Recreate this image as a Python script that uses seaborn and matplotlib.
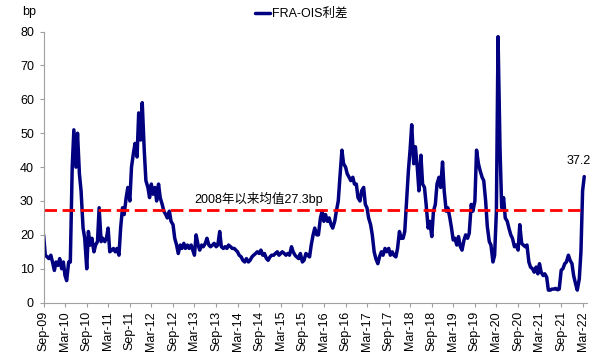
import matplotlib
matplotlib.use('Agg')
import matplotlib.pyplot as plt
import matplotlib.dates as mdates
import seaborn as sns
import pandas as pd

# -----------data (bp, 1st and 15th of each month)-----------------------------------
y2009 = [20, 14, 13.5, 13, 14, 12, 9.5, 12]
y2010 = [11, 13, 10, 12, 8, 6.5, 12, 12, 40, 51, 40, 50, 38, 33, 22, 19, 10, 21, 17, 19, 15, 17, 18, 28]
y2011 = [18, 19, 18, 19, 22, 15, 15.5, 16, 15, 16, 14, 22, 28, 26, 31, 34, 30, 40, 44, 47, 43, 56, 48, 59]
y2012 = [45, 36, 34, 31, 35, 32, 34, 30, 35, 31, 29, 27, 26, 25, 27, 24, 23, 19, 17, 14.5, 17, 16, 17.5, 16]
y2013 = [17, 16, 17, 15.5, 14, 20, 17, 15.5, 17, 16.5, 17.5, 19, 17, 16.5, 17, 17.5, 16.5, 17, 21, 16.5, 16, 16.5, 16, 17]
y2014 = [16.5, 16, 16, 15.5, 15, 14, 13.5, 12.5, 12, 13, 12, 12.5, 13.5, 14, 14.5, 15, 14.5, 15.5, 14, 14.5, 13, 12.5, 13.5, 14]
y2015 = [14, 14.5, 15, 14, 14.5, 15, 14.5, 14, 14.5, 14, 16.5, 15, 14, 13.5, 13, 14.5, 12, 12.5, 14.5, 14, 13.5, 17, 20, 22]
y2016 = [20, 20, 25, 27, 24, 26, 24, 25, 23, 22, 24, 27, 30, 37, 45, 41, 40, 38, 37, 36, 37, 35, 35, 31]
y2017 = [30, 33, 34, 29, 28, 25, 23, 20, 15, 13, 11.5, 13.5, 15, 14, 16, 15, 16, 14, 15, 14, 13.5, 16, 21, 19]
y2018 = [19, 21, 31, 39, 45, 52.5, 41, 46, 40, 33, 43.5, 35, 34, 29, 22, 24, 19.5, 27, 29, 35, 37, 34, 41.5, 33]
y2019 = [27, 28, 25, 22, 18.5, 19, 17, 19.5, 16.5, 15.5, 18.5, 20, 19, 20.5, 29, 27, 30, 45, 41, 39, 37, 36, 30, 22.5]
y2020 = [18, 17, 12, 14, 27, 78.5, 45, 28, 31, 25, 24, 22, 20, 19, 16.5, 17, 15.5, 23, 17.5, 17, 16.5, 17, 12, 10.5]
y2021 = [10, 9, 10.5, 8.5, 11.5, 9, 8, 8.5, 7.5, 3.7, 3.7, 4, 4, 4.2, 3.8, 4, 9.6, 10, 11.5, 12, 14, 12.5, 11.5, 8]
y2022 = [5.5, 3.7, 7, 15, 33, 37.2]

avg_since_2008 = 27.3
series_name = 'FRA-OIS利差'
avg_label = '2008年以来均值27.3bp'

spread = (y2009 + y2010 + y2011 + y2012 + y2013 + y2014 + y2015 + y2016
          + y2017 + y2018 + y2019 + y2020 + y2021 + y2022)
dates = pd.date_range('2009-09-01', '2022-03-15', freq='SMS')
df = pd.DataFrame({'date': dates, 'spread': spread})

sns.set_style('ticks')
plt.rcParams['font.family'] = ['Liberation Sans', 'Noto Sans CJK SC']
plt.rcParams['font.size'] = 9
plt.rcParams['text.color'] = 'black'
plt.rcParams['xtick.labelcolor'] = 'black'
plt.rcParams['ytick.labelcolor'] = 'black'

fig = plt.figure(figsize=(6.06, 3.59), dpi=100)
ax = fig.add_axes([0.072, 0.157, 0.896, 0.755])

sns.lineplot(data=df, x='date', y='spread', color='#000080', linewidth=2.5,
             label=series_name, ax=ax)
ax.hlines(avg_since_2008, dates[0], dates[-1], colors='#ff0000',
          linestyles=(0, (4.5, 2)), linewidth=2)

ax.set_ylim(0, 80)
ax.set_yticks(range(0, 81, 10))
ax.set_xlim(pd.Timestamp('2009-09-01'), pd.Timestamp('2022-04-04'))
ax.xaxis.set_major_locator(mdates.MonthLocator(bymonth=[3, 9]))
ax.xaxis.set_major_formatter(mdates.DateFormatter('%b-%y'))
ax.set_xlabel('')
ax.set_ylabel('')

for s in ['top', 'right']:
    ax.spines[s].set_visible(False)
for s in ['left', 'bottom']:
    ax.spines[s].set_color('#a0a0a0')
    ax.spines[s].set_linewidth(0.8)
ax.tick_params(axis='y', length=3, width=0.8, color='#a0a0a0', labelcolor='black',
               pad=4, labelsize=9)
ax.tick_params(axis='x', length=3, width=0.8, color='#a0a0a0', labelcolor='black',
               pad=3, labelsize=9, labelrotation=90)

ax.text(pd.Timestamp('2013-03-04'), 30.6, avg_label, va='center', ha='left',
        fontsize=9, color='black')
ax.annotate(f'{spread[-1]}', (dates[-1], spread[-1]), xytext=(-4, 7),
            textcoords='offset points', ha='center', va='bottom', fontsize=9,
            color='black')

fig.text(0.036, 0.967, 'bp', va='center', ha='left', fontsize=9, color='black')
leg = ax.legend(loc='center', bbox_to_anchor=(0.497, 0.961), bbox_transform=fig.transFigure,
                frameon=False, handlelength=1.2, handletextpad=0.2, fontsize=9)
for t in leg.get_texts():
    t.set_color('black')

fig.savefig('out.png', dpi=100)
